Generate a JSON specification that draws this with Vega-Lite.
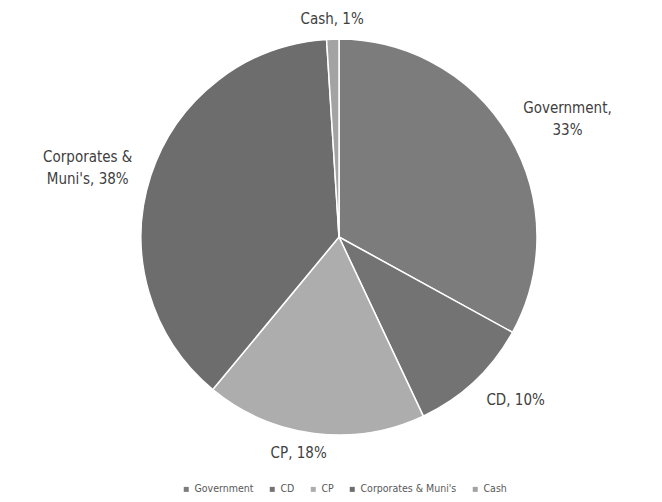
{
  "$schema": "https://vega.github.io/schema/vega-lite/v6.json",
  "width": 646,
  "height": 474,
  "autosize": {"type": "none"},
  "padding": {"left": 16, "top": 0, "right": 0, "bottom": 28},
  "background": "white",
  "config": {
    "view": {"stroke": null},
    "font": "DejaVu Sans Condensed, Roboto, sans-serif",
    "text": {"fontSize": 15, "color": "#404040", "lineHeight": 22, "baseline": "middle"}
  },
  "data": {
    "values": [
      {"category": "Government", "value": 33, "label": ["Government,", "33%"]},
      {"category": "CD", "value": 10, "label": ["CD, 10%"]},
      {"category": "CP", "value": 18, "label": ["CP, 18%"]},
      {"category": "Corporates & Muni's", "value": 38, "label": ["Corporates &", "Muni's, 38%"]},
      {"category": "Cash", "value": 1, "label": ["Cash, 1%"]}
    ]
  },
  "transform": [
    {"window": [{"op": "row_number", "as": "slice"}]},
    {"stack": "value", "groupby": [], "sort": [{"field": "slice", "order": "ascending"}], "as": ["start", "end"]},
    {"calculate": "(datum.start + datum.end) / 2", "as": "mid"}
  ],
  "encoding": {
    "theta": {"field": "mid", "type": "quantitative", "scale": {"domain": [0, 100]}},
    "text": {"field": "label"}
  },
  "layer": [
    {
      "mark": {"type": "arc", "outerRadius": 198, "stroke": "white", "strokeWidth": 1.5},
      "encoding": {
        "theta": {"field": "start", "type": "quantitative", "scale": {"domain": [0, 100]}},
        "theta2": {"field": "end"},
        "text": null,
        "color": {
          "field": "category",
          "type": "nominal",
          "sort": ["Government", "CD", "CP", "Corporates & Muni's", "Cash"],
          "scale": {
            "domain": ["Government", "CD", "CP", "Corporates & Muni's", "Cash"],
            "range": ["#7c7c7c", "#737373", "#adadad", "#6d6d6d", "#a3a3a3"]
          },
          "legend": {
            "title": null,
            "orient": "none",
            "direction": "horizontal",
            "legendX": 165,
            "legendY": 484,
            "symbolType": "square",
            "symbolSize": 25,
            "symbolStrokeWidth": 0,
            "labelFont": "DejaVu Sans Condensed, Roboto, sans-serif",
            "labelFontSize": 10.5,
            "labelColor": "#595959",
            "labelOffset": 3,
            "columnPadding": 13
          }
        }
      }
    },
    {
      "transform": [{"filter": "datum.category === 'Government'"}],
      "mark": {"type": "text", "radius": 255, "dx": 9, "dy": 1}
    },
    {
      "transform": [{"filter": "datum.category === 'CD'"}],
      "mark": {"type": "text", "radius": 239, "dx": 13, "dy": -11}
    },
    {
      "transform": [{"filter": "datum.category === 'CP'"}],
      "mark": {"type": "text", "radius": 218, "dx": -13, "dy": 0}
    },
    {
      "transform": [{"filter": "datum.category === \"Corporates & Muni's\""}],
      "mark": {"type": "text", "radius": 260, "dx": -4, "dy": 0}
    },
    {
      "transform": [{"filter": "datum.category === 'Cash'"}],
      "mark": {"type": "text", "radius": 219, "dy": 1}
    }
  ]
}
